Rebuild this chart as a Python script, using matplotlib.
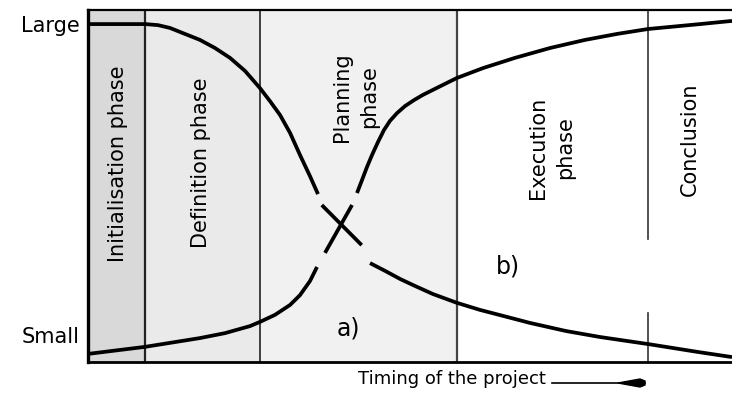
import matplotlib
matplotlib.use("Agg")
import matplotlib.pyplot as plt
from matplotlib.lines import Line2D
from matplotlib.patches import Polygon

plt.rcParams['font.family'] = ['DejaVu Sans']

# phases (timing 0-100) and level axis (0 = small, 100 = large)
phase_edges = [0, 8.85, 26.7, 57.3, 87.0, 100]
phase_names = ['Initialisation phase', 'Definition phase', 'Planning\nphase',
               'Execution\nphase', 'Conclusion']
phase_label_x = [4.7, 17.5, 41.6, 72.0, 93.5]
phase_label_y = [56.3, 56.5, 75.3, 60.8, 63.4]
phase_fill = ['#d9d9d9', '#eaeaea', '#f1f1f1', 'white', 'white']

level_ticks = [7.7, 96.0]
level_labels = ['Small', 'Large']

# curve a) decreasing (upper part, crossing stroke, lower part)
dec_x1 = [0, 8.85, 10.87, 12.73, 15.06, 17.39, 19.72, 22.05, 24.38, 26.71,
          28.26, 29.81, 31.37, 32.92, 34.47, 35.71]
dec_y1 = [96.0, 96.0, 95.7, 94.9, 93.2, 91.5, 89.2, 86.4, 82.7, 77.8,
          74.1, 70.2, 65.1, 58.8, 52.8, 47.7]
dec_x2 = [36.3, 42.5]
dec_y2 = [44.6, 33.2]
dec_x3 = [43.79, 46.12, 48.45, 50.78, 53.57, 57.30, 60.87, 63.82, 68.63,
          74.22, 79.50, 86.96, 94.88, 100]
dec_y3 = [28.1, 25.9, 23.6, 21.6, 19.3, 16.8, 14.8, 13.4, 11.1,
          8.8, 7.1, 5.1, 2.8, 1.4]

# curve b) increasing
inc_x1 = [0, 8.85, 17.39, 21.27, 23.6, 25.16, 26.71, 29.04, 31.37, 32.92,
          34.47, 35.56]
inc_y1 = [2.3, 4.3, 6.8, 8.2, 9.4, 10.2, 11.4, 13.4, 16.2, 19.0, 23.0, 27.0]
inc_x2 = [36.8, 41.0]
inc_y2 = [31.0, 44.6]
inc_x3 = [41.77, 42.55, 43.32, 44.10, 45.03, 45.96, 46.89, 47.98, 49.22,
          50.62, 52.02, 53.88, 55.75, 57.30, 61.34, 66.30, 71.74, 77.17,
          82.14, 86.96, 95.03, 100]
inc_y3 = [48.0, 51.7, 55.4, 58.8, 62.5, 65.9, 68.5, 70.7, 72.7,
          74.4, 75.9, 77.6, 79.3, 80.7, 83.5, 86.4, 89.2, 91.5,
          93.2, 94.6, 96.0, 96.9]

fig = plt.figure(figsize=(7.32, 4.05), dpi=100)
ax = fig.add_axes([88 / 732, 43 / 405, 1 - 88 / 732, 352 / 405])
ax.set_xlim(0, 100)
ax.set_ylim(0, 100)

for i, name in enumerate(phase_names):
    ax.axvspan(phase_edges[i], phase_edges[i + 1], color=phase_fill[i], lw=0, zorder=0)
    ax.text(phase_label_x[i], phase_label_y[i], name, rotation=90, fontsize=15,
            ha='center', va='center', ma='center', linespacing=1.45, zorder=3)

# phase boundaries
ax.axvline(phase_edges[1], color='#222222', lw=1.6, zorder=1)
ax.axvline(phase_edges[2], color='#222222', lw=1.2, zorder=1)
ax.axvline(phase_edges[3], color='#444444', lw=1.6, zorder=1)
ax.axvline(phase_edges[4], ymin=0, ymax=0.139, color='#333333', lw=1.2, zorder=1)
ax.axvline(phase_edges[4], ymin=0.349, ymax=1, color='#333333', lw=1.2, zorder=1)

kw = dict(color='black', lw=2.7, solid_capstyle='butt', solid_joinstyle='round', zorder=4)
ax.plot(dec_x1, dec_y1, **kw)
ax.plot(dec_x2, dec_y2, **kw)
ax.plot(dec_x3, dec_y3, **kw)
ax.plot(inc_x1, inc_y1, **kw)
ax.plot(inc_x2, inc_y2, **kw)
ax.plot(inc_x3, inc_y3, **kw)

ax.text(40.5, 9.4, 'a)', fontsize=17, ha='center', va='center', zorder=5)
ax.text(65.2, 27.0, 'b)', fontsize=17, ha='center', va='center', zorder=5)

ax.set_xticks([])
ax.set_yticks(level_ticks)
ax.set_yticklabels(level_labels, fontsize=15)
ax.tick_params(axis='y', length=0, pad=6)

ax.spines['right'].set_visible(False)
ax.spines['left'].set_linewidth(2.4)
ax.spines['top'].set_linewidth(1.6)
ax.spines['bottom'].set_linewidth(2.0)

# x axis caption with arrow
fig.text(358 / 732, 1 - 379 / 405, 'Timing of the project', fontsize=13,
         ha='left', va='center')
ay = 1 - 383 / 405
fig.add_artist(Line2D([552 / 732, 645 / 732], [ay, ay], color='black', lw=1.2))
fig.add_artist(Polygon([[618 / 732, ay], [640 / 732, ay + 4 / 405],
                        [645 / 732, ay + 2 / 405], [645 / 732, ay - 2 / 405],
                        [640 / 732, ay - 4 / 405]],
                       closed=True, color='black', transform=fig.transFigure))

fig.savefig('out.png', dpi=100)
